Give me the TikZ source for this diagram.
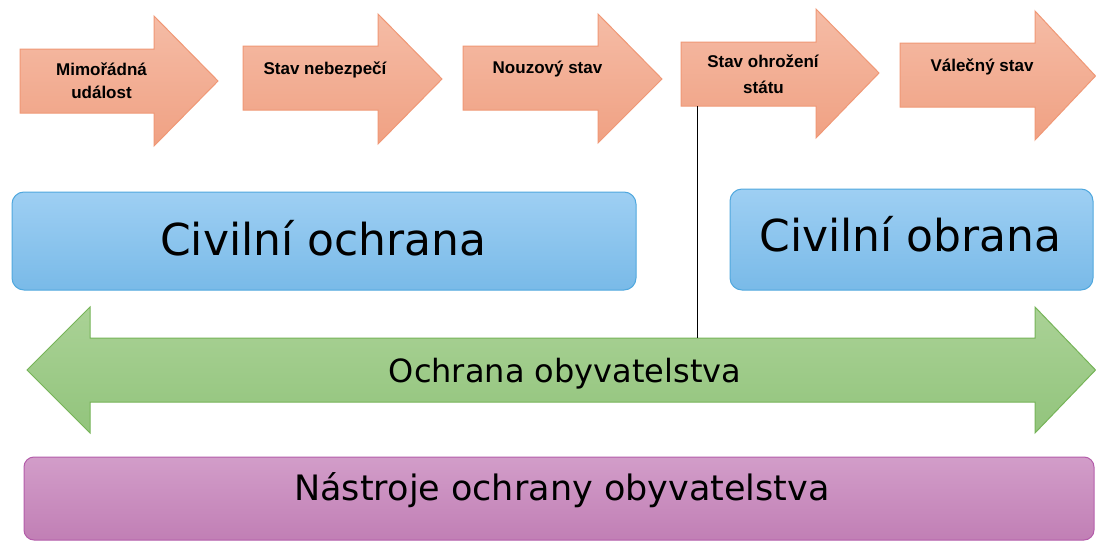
\documentclass[tikz,border=0pt]{standalone}
\usepackage{fontspec}
\setmainfont{DejaVu Sans}
\newfontfamily\smallfont{Liberation Sans}
\begin{document}
\begin{tikzpicture}[x=1pt,y=-1pt,
  orarrow/.style={draw=orLine,line width=1pt,top color=orTop,bottom color=orBot,line join=miter},
  bluebox/.style={draw=blLine,line width=1pt,top color=blTop,bottom color=blBot,rounded corners=12pt},
  grarrow/.style={draw=grLine,line width=1pt,top color=grTop,bottom color=grBot},
  purbox/.style={draw=puLine,line width=1pt,top color=puTop,bottom color=puBot,rounded corners=10pt},
  smalltxt/.style={font=\smallfont\fontsize{17}{20}\selectfont\bfseries,inner sep=0pt,anchor=base},
  bigtxt/.style={font=\fontsize{44}{50}\selectfont,inner sep=0pt,anchor=base},
  midtxt/.style={font=\fontsize{32}{38}\selectfont,inner sep=0pt,anchor=base},
  purtxt/.style={font=\fontsize{35}{40}\selectfont,inner sep=0pt,anchor=base},
  conn/.style={draw=black,line width=1pt}]
\definecolor{orTop}{RGB}{245,188,166}
\definecolor{orBot}{RGB}{240,161,131}
\definecolor{orLine}{RGB}{240,152,118}
\definecolor{blTop}{RGB}{158,207,243}
\definecolor{blBot}{RGB}{121,186,232}
\definecolor{blLine}{RGB}{80,168,222}
\definecolor{grTop}{RGB}{170,210,150}
\definecolor{grBot}{RGB}{146,196,124}
\definecolor{grLine}{RGB}{118,180,88}
\definecolor{puTop}{RGB}{210,157,201}
\definecolor{puBot}{RGB}{193,127,181}
\definecolor{puLine}{RGB}{180,93,170}
\useasboundingbox (0,0) rectangle (1096,541);
\fill[white] (0,0) rectangle (1096,541);
% orange arrows
\path[orarrow] (20,49) -- (154,49) -- (154,16) -- (218,81) -- (154,146) -- (154,113) -- (20,113) -- cycle;
\path[orarrow] (243,46) -- (378,46) -- (378,14) -- (442,79) -- (378,144) -- (378,110) -- (243,110) -- cycle;
\path[orarrow] (463,46) -- (598,46) -- (598,14) -- (662,79) -- (598,143) -- (598,110) -- (463,110) -- cycle;
\path[orarrow] (681,42) -- (816,42) -- (816,9) -- (879,73) -- (816,138) -- (816,106) -- (681,106) -- cycle;
\path[orarrow] (900,43) -- (1035,43) -- (1035,11) -- (1095.5,76) -- (1035,140) -- (1035,107) -- (900,107) -- cycle;
\node[smalltxt] (t1a) at (101.5,75) {Mimořádná};
\node[smalltxt] (t1b) at (101.5,98) {událost};
\node[smalltxt] (t2) at (325,74.5) {Stav nebezpečí};
\node[smalltxt] (t3) at (547.5,73.5) {Nouzový stav};
\node[smalltxt] (t4a) at (763,67.5) {Stav ohrožení};
\node[smalltxt] (t4b) at (763.5,93) {státu};
\node[smalltxt] (t5) at (982,71) {Válečný stav};
% blue boxes
\path[bluebox] (12,192) rectangle (636,290);
\path[bluebox] (730,189) rectangle (1093,290);
\node[bigtxt] (co) at (323.5,255) {Civilní ochrana};
\node[bigtxt] (cb) at (910.5,251) {Civilní obrana};
% green double arrow
\path[grarrow] (27,370) -- (90,307) -- (90,338) -- (1035,338) -- (1035,307) -- (1095.5,370) -- (1035,433) -- (1035,402) -- (90,402) -- (90,433) -- cycle;
\node[midtxt] (oo) at (565,382) {Ochrana obyvatelstva};
% connector
\coordinate (a4bottom) at (697,106);
\coordinate (gtop) at (697,338);
\draw[conn] (a4bottom) -- (gtop);
% purple box
\path[purbox] (24,457) rectangle (1094,540);
\node[purtxt] (no) at (562,500) {Nástroje ochrany obyvatelstva};
\end{tikzpicture}
\end{document}
